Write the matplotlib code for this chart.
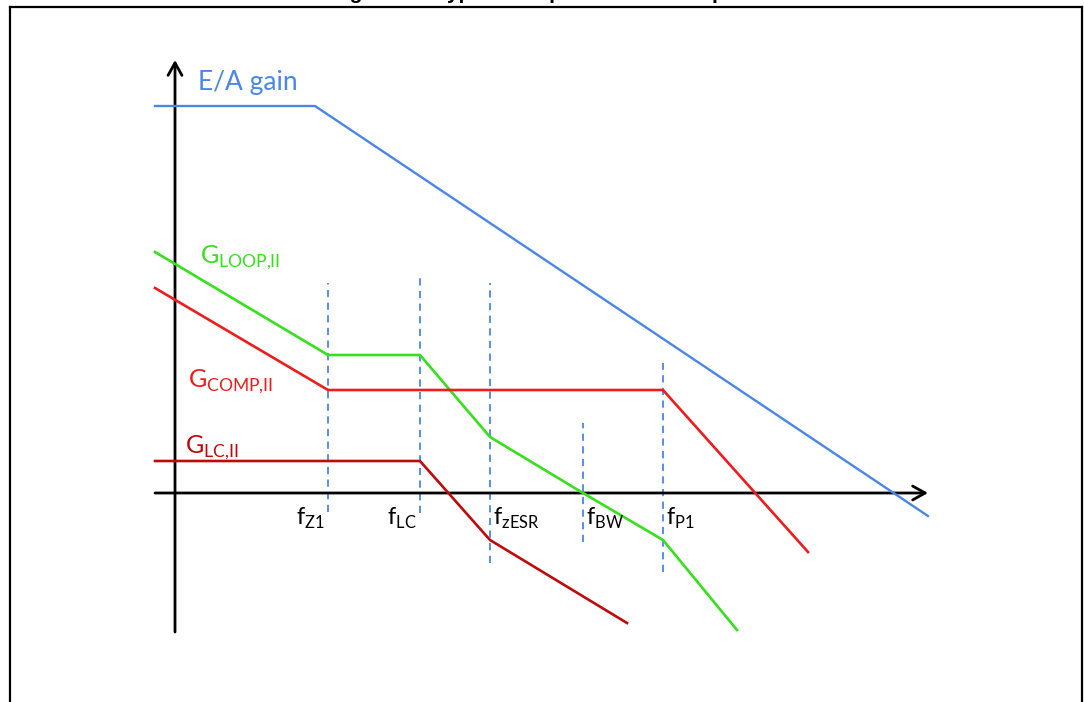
import matplotlib
matplotlib.use('Agg')
import matplotlib.pyplot as plt
from matplotlib.lines import Line2D

plt.rcParams['font.family'] = ['Lato', 'DejaVu Sans']
plt.rcParams['mathtext.fontset'] = 'custom'
plt.rcParams['mathtext.rm'] = 'Lato'

# x: frequency position (right of the y axis), y: gain (above the x axis)
ea_x = [-20, 140, 753]
ea_y = [387, 387, -23]

loop_x = [-20, 153, 245, 315, 408, 488, 562]
loop_y = [241, 138, 138, 56, 0, -47, -137]

comp_x = [-20, 153, 488, 633]
comp_y = [205, 103, 103, -59]

lc_x = [-20, 245, 315, 452]
lc_y = [32, 32, -47, -130]

# corner frequencies and the extent of their dashed markers
f_pos = [153, 245, 315, 408, 488]
f_top = [210, 215, 210, 70, 130]
f_bot = [-19, -20, -70, -49, -79]
f_names = ['Z1', 'LC', 'zESR', 'BW', 'P1']

title = 'Figure 10. Type II compensation Bode plot'

blue = '#4a86e8'
green = '#36e01c'
red = '#ee1c1c'
darkred = '#bf0a0a'

fig = plt.figure(figsize=(10.84, 7.02), dpi=100)
ax = fig.add_axes([0, 0, 1, 1])
ax.set_xlim(-175, 909)
ax.set_ylim(-209, 493)
ax.axis('off')

# frame round the picture
W, H = 1084.0, 702.0
for xs, ys in [([10, 10], [7, 702]), ([10, 1082], [7, 7]), ([1082, 1082], [7, 702])]:
    fig.add_artist(Line2D([x / W for x in xs], [1 - y / H for y in ys],
                          transform=fig.transFigure, color='black', lw=1.6))

# title sits above the frame, only its lower part shows (as in the source)
fig.text(541 / W, 1 + 1 / H, title, ha='center', va='baseline',
         fontsize=15, fontweight='bold', family='Liberation Sans')

# dashed markers
for x, t, b in zip(f_pos, f_top, f_bot):
    ax.plot([x, x], [b, t], color=blue, lw=1.3, ls=(0, (4, 3)), zorder=1)

# axes arrows
arrow = dict(arrowstyle='->,head_length=0.45,head_width=0.25', lw=2.0,
             color='black', mutation_scale=20, shrinkA=0, shrinkB=0)
ax.annotate('', xy=(0, 433), xytext=(0, -139), arrowprops=arrow, zorder=2)
ax.annotate('', xy=(753, 0), xytext=(-20, 0), arrowprops=arrow, zorder=2)

ax.plot(ea_x, ea_y, color=blue, lw=1.7, zorder=3)
ax.plot(loop_x, loop_y, color=green, lw=1.9, zorder=3)
ax.plot(comp_x, comp_y, color=red, lw=1.9, zorder=3)
ax.plot(lc_x, lc_y, color=darkred, lw=1.9, zorder=3)

ax.text(23, 403, 'E/A gain', color=blue, fontsize=19, va='baseline')
ax.text(25, 230, r'G$_{\rm LOOP{,}II}$', color=green, fontsize=18, va='baseline')
ax.text(13, 106, r'G$_{\rm COMP{,}II}$', color=red, fontsize=18, va='baseline')
ax.text(10, 40, r'G$_{\rm LC{,}II}$', color=darkred, fontsize=18, va='baseline')

for i, (x, name) in enumerate(zip(f_pos, f_names)):
    if i < 2:
        ax.text(x - 3, -32, r'f$_{\rm %s}$' % name, ha='right', va='baseline', fontsize=17)
    else:
        ax.text(x + 3, -32, r'f$_{\rm %s}$' % name, ha='left', va='baseline', fontsize=17)

fig.savefig('out.png', dpi=100)
